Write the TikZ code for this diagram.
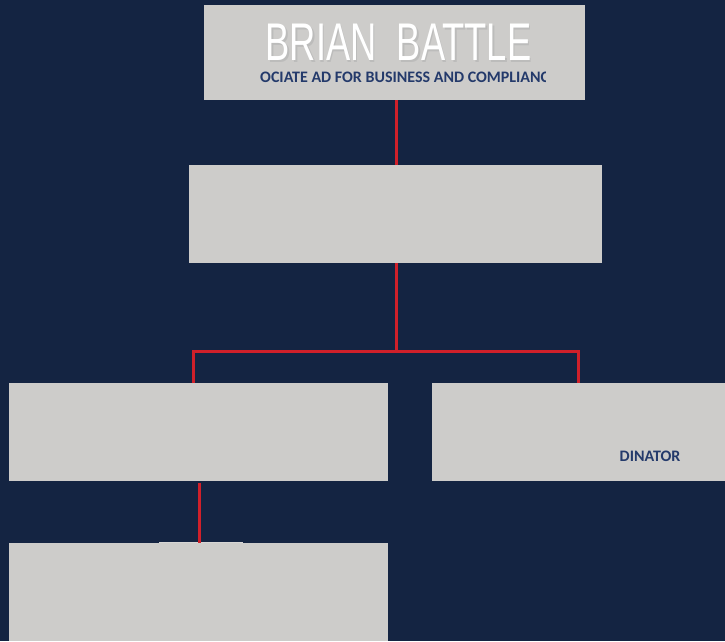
\documentclass[tikz,border=0pt]{standalone}
\usepackage{fontspec}
\setmainfont{Carlito}
\newfontfamily\namefont{Liberation Sans}
\definecolor{navy}{HTML}{142442}
\definecolor{boxgray}{HTML}{CDCCCA}
\definecolor{linkred}{HTML}{D0202A}
\definecolor{textnavy}{HTML}{243A6B}
\tikzset{
  card/.style={fill=boxgray, draw=none},
  link/.style={draw=linkred, line width=3pt},
  subtitle/.style={text=textnavy, font=\bfseries\fontsize{16}{17}\selectfont, inner sep=0pt},
  nametext/.style={inner sep=0pt, font=\namefont\fontsize{53}{53}\selectfont},
}
\begin{document}
\begin{tikzpicture}[x=1pt,y=-1pt]
\fill[navy] (0,0) rectangle (725,641);
\useasboundingbox (0,0) rectangle (725,641);
% cards
\fill[card] (204,5) rectangle (585,100);
\coordinate (c1) at (396,100);
\fill[card] (189,165) rectangle (602,263);
\coordinate (c2t) at (396,165);
\coordinate (c2b) at (396,263);
\fill[card] (9,383) rectangle (388,481);
\coordinate (c3t) at (193,383);
\coordinate (c3b) at (199,483);
\fill[card] (432,383) rectangle (725,481);
\coordinate (c4t) at (578,383);
\fill[card] (9,543) rectangle (388,641);
\coordinate (c5t) at (199,543);
\fill[boxgray!80!white] (159,541.5) rectangle (243,543);
% title
\node[nametext, text=black!30, opacity=0.6] (nameshadow) at (400,44) {\scalebox{0.685}[1]{BRIAN\ \ BATTLE}};
\node[nametext, text=white] (name) at (398.5,42) {\scalebox{0.685}[1]{BRIAN\ \ BATTLE}};
\begin{scope}
\clip (260,62) rectangle (545,95);
\node[subtitle, anchor=west] (sub) at (260,77.5) {OCIATE AD FOR BUSINESS AND COMPLIANCE};
\end{scope}
\node[subtitle] (dinator) at (650,456) {DINATOR};
% links
\draw[link] (c1) -- (c2t);
\draw[link] (c2b) -- (396,351) coordinate (j);
\draw[link] (c3t) |- (j) -| (c4t);
\draw[link] (c3b) -- (c5t);
\end{tikzpicture}
\end{document}
